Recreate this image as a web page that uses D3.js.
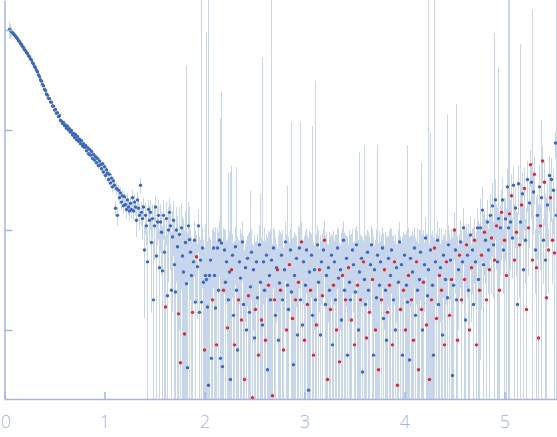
<!DOCTYPE html>
<html lang="en">
<head>
    <meta charset="UTF-8">
    <title>Scattering curve</title>
    <style>
        body { margin: 0; background: #fff; }
        .axis path, .axis line { stroke: #a3b6e3; stroke-width: 1.5; }
        .axis text { font: 300 18px "Open Sans", sans-serif; fill: #a3b6e3; }
        .err { stroke: #c8d6ec; stroke-width: 1; }
    </style>
</head>
<body>
<div id="chart"></div>
<script src="https://d3js.org/d3.v7.min.js"></script>
<script>

    // low-q part: smooth curve
    var qLow = [0.05,0.06,0.07,0.08,0.09,0.10,0.11,0.12,0.13,0.14,
        0.15,0.16,0.17,0.18,0.19,0.20,0.21,0.22,0.23,0.24,
        0.25,0.26,0.27,0.28,0.29,0.30,0.31,0.32,0.33,0.34,
        0.35,0.36,0.37,0.38,0.39,0.40,0.41,0.42,0.43,0.44,
        0.45,0.46,0.47,0.48,0.49,0.50,0.51,0.52,0.53,0.54,
        0.55,0.56,0.57,0.58,0.59,0.60,0.61,0.62,0.63,0.64,
        0.65,0.66,0.67,0.68,0.69,0.70,0.71,0.72,0.73,0.74,
        0.75,0.76,0.77,0.78,0.79,0.80,0.81,0.82,0.83,0.84,
        0.85,0.86,0.87,0.88,0.89,0.90,0.91,0.92,0.93,0.94,
        0.95,0.96,0.97,0.98,0.99,1.00,1.01,1.02,1.03,1.04,
        1.05,1.06,1.07,1.08,1.09,1.10,1.11,1.12,1.13,1.14,
        1.15,1.16,1.17,1.18,1.19,1.20,1.21,1.22,1.23,1.24,1.25];

    var iLow = [1010,985,962,938,917,893,872,842,818,786,
        765,732,715,686,668,636,622,596,583,554,
        540,512,501,470,458,432,420,396,381,356,
        342,318,308,286,276,255,248,229,223,208,
        206,191,189,174,173,158,160,147,149,136,
        139,125,122,116,119,110,112,104,109,100,
        103,95,99,89,93,84,90,80,86,77,
        81,73,78,69,73,67,70,62,67,58,
        64,56,61,52,57,50,54,47,52,44,
        49,45,41,46,38,43,35,40,37,32,
        36,29.5,33,27,31,28,16.5,26,14,25,
        21,23.5,19,22,17.5,21.5,18,16,20,17,15.5];

    var eLow = [200,160,120,60,35,22,16,15,15,14,
        14,13,13,12,12,11,11,10,10,9,
        9,8,8,7,7,7,6,6,6,6,
        5,5,5,5,4,4,4,4,4,4,
        3.5,3.5,3.5,3.5,3,3,3,3,3,3,
        3,3,3,2.5,2.5,2.5,2.5,2.5,2.5,2.5,
        2.5,2.5,2.5,2.5,2.5,2.5,2.5,2.5,2.5,2.5,
        3,3,3,3,3,3,3,3,3,3,
        3.5,3.5,3.5,3.5,3.5,3.5,3.5,3.5,3.5,3.5,
        3.5,3.5,3.5,3.5,3.5,3.5,3.5,3.5,3.5,3.5,
        3.5,3.5,3.5,3.5,3.5,3.5,3,3.5,3,3.5,
        3,3,3,3,3,3,3,3,3,3,3];

    // high-q part: noisy, negative intensities are shown red at |I|
    var qHigh = [1.26,1.27,1.28,1.29,1.30,1.31,1.32,1.33,1.34,1.35,
        1.36,1.37,1.38,1.39,1.40,1.41,1.42,1.43,1.44,1.45,
        1.46,1.47,1.48,1.49,1.50,1.51,1.52,1.53,1.54,1.55,
        1.56,1.57,1.58,1.59,1.60,1.61,1.62,1.63,1.64,1.65,
        1.66,1.67,1.68,1.69,1.70,1.71,1.72,1.73,1.74,1.75,
        1.76,1.77,1.78,1.79,1.80,1.81,1.82,1.83,1.84,1.85,
        1.86,1.87,1.88,1.89,1.90,1.91,1.92,1.93,1.94,1.95,
        1.96,1.97,1.98,1.99,2.00,2.01,2.02,2.03,2.04,2.05,
        2.06,2.07,2.08,2.09,2.10,2.11,2.12,2.13,2.14,2.15,
        2.16,2.17,2.18,2.19,2.20,2.21,2.22,2.23,2.24,2.25,
        2.26,2.27,2.28,2.29,2.30,2.31,2.32,2.33,2.34,2.35,
        2.36,2.37,2.38,2.39,2.40,2.41,2.42,2.43,2.44,2.45,
        2.46,2.47,2.48,2.49,2.50,2.51,2.52,2.53,2.54,2.55,
        2.56,2.57,2.58,2.59,2.60,2.61,2.62,2.63,2.64,2.65,
        2.66,2.67,2.68,2.69,2.70,2.71,2.72,2.73,2.74,2.75,
        2.76,2.77,2.78,2.79,2.80,2.81,2.82,2.83,2.84,2.85,
        2.86,2.87,2.88,2.89,2.90,2.91,2.92,2.93,2.94,2.95,
        2.96,2.97,2.98,2.99,3.00,3.01,3.02,3.03,3.04,3.05,
        3.06,3.07,3.08,3.09,3.10,3.11,3.12,3.13,3.14,3.15,
        3.16,3.17,3.18,3.19,3.20,3.21,3.22,3.23,3.24,3.25,
        3.26,3.27,3.28,3.29,3.30,3.31,3.32,3.33,3.34,3.35,
        3.36,3.37,3.38,3.39,3.40,3.41,3.42,3.43,3.44,3.45,
        3.46,3.47,3.48,3.49,3.50,3.51,3.52,3.53,3.54,3.55,
        3.56,3.57,3.58,3.59,3.60,3.61,3.62,3.63,3.64,3.65,
        3.66,3.67,3.68,3.69,3.70,3.71,3.72,3.73,3.74,3.75,
        3.76,3.77,3.78,3.79,3.80,3.81,3.82,3.83,3.84,3.85,
        3.86,3.87,3.88,3.89,3.90,3.91,3.92,3.93,3.94,3.95,
        3.96,3.97,3.98,3.99,4.00,4.01,4.02,4.03,4.04,4.05,
        4.06,4.07,4.08,4.09,4.10,4.11,4.12,4.13,4.14,4.15,
        4.16,4.17,4.18,4.19,4.20,4.21,4.22,4.23,4.24,4.25,
        4.26,4.27,4.28,4.29,4.30,4.31,4.32,4.33,4.34,4.35,
        4.36,4.37,4.38,4.39,4.40,4.41,4.42,4.43,4.44,4.45,
        4.46,4.47,4.48,4.49,4.50,4.51,4.52,4.53,4.54,4.55,
        4.56,4.57,4.58,4.59,4.60,4.61,4.62,4.63,4.64,4.65,
        4.66,4.67,4.68,4.69,4.70,4.71,4.72,4.73,4.74,4.75,
        4.76,4.77,4.78,4.79,4.80,4.81,4.82,4.83,4.84,4.85,
        4.86,4.87,4.88,4.89,4.90,4.91,4.92,4.93,4.94,4.95,
        4.96,4.97,4.98,4.99,5.00,5.01,5.02,5.03,5.04,5.05,
        5.06,5.07,5.08,5.09,5.10,5.11,5.12,5.13,5.14,5.15,
        5.16,5.17,5.18,5.19,5.20,5.21,5.22,5.23,5.24,5.25,
        5.26,5.27,5.28,5.29,5.30,5.31,5.32,5.33,5.34,5.35,
        5.36,5.37,5.38,5.39,5.40,5.41,5.42,5.43,5.44,5.45,
        5.46,5.47,5.48,5.49,5.50,5.51,5.52];

    var iHigh = [18.5,16,21,15.5,19,17,12.5,20,16.5,14,
        28,15,13,17,6.3,14,11,4.8,16,12.5,
        15,7.5,13,2.0,11,17,5.5,12,14,4.2,
        12,9.5,3.9,14,6,-1.7,13,2.2,10,15,
        11,2.5,8.5,12.5,4.5,2.4,10,6.8,-1.45,9,
        -0.47,10.5,5.5,3.8,-0.91,7.5,2.9,0.42,11,8,
        6.0,3.5,-1.5,4.8,7.9,1.9,-5.4,4.3,11,1.5,
        5.0,1.9,6.6,3.0,-0.63,3.5,3.2,1.7,0.28,3.5,
        5.0,0.52,-2.0,6.6,3.5,1.66,-0.71,6.6,2.5,7.9,
        0.52,7.4,0.43,-2.5,6.3,3.0,4.8,-1.05,2.0,3.8,
        0.32,-4.0,5.6,1.4,-0.71,6.8,2.5,0.63,-2.0,4.8,
        3.3,-1.26,7.6,1.8,-0.32,4.2,1.0,5.2,-2.2,1.5,
        2.7,6.0,-0.21,4.0,0.83,-1.6,4.8,2.1,-0.56,7.1,
        3.0,-1.26,1.12,4.8,2.5,-0.79,5.6,0.40,-2.8,3.5,
        2.0,5.0,-0.22,6.6,-2.0,1.4,4.2,-4.0,0.79,2.95,
        -2.5,5.6,2.0,-0.63,4.0,7.6,-1.0,2.8,1.6,-4.5,
        6.3,2.4,-1.3,0.45,3.5,-2.0,5.2,0.89,-3.0,6.6,
        2.0,-7.6,1.12,4.8,-0.79,2.8,6.3,-1.8,0.25,3.8,
        -2.5,5.6,1.4,-0.56,4.0,2.0,-1.12,7.1,3.0,-4.0,
        0.89,4.8,-2.2,6.3,-7.9,1.8,3.5,-0.32,4.2,2.5,
        -1.6,5.6,0.71,-2.8,4.8,2.0,-1.0,6.6,3.3,-0.48,
        4.0,1.26,-3.5,7.9,2.5,-2.0,5.2,0.56,-4.2,3.0,
        2.0,-1.26,6.3,4.5,-0.71,2.4,7.1,-2.8,1.0,3.8,
        -2.0,5.2,0.38,-4.8,3.2,1.8,-0.83,6.0,2.5,-1.5,
        4.5,7.1,-3.2,0.56,4.0,-1.0,2.1,5.6,-0.40,2.8,
        4.8,-2.0,6.6,1.3,-4.0,2.5,0.79,-1.5,5.2,-2.8,
        3.5,6.3,-0.71,2.0,-4.8,1.0,4.2,-0.28,3.0,7.6,
        -1.6,4.5,0.56,-2.5,5.6,-1.0,2.8,1.9,-3.5,0.50,
        5.2,-2.0,3.8,-0.79,6.6,1.4,-4.8,2.5,-0.40,3.2,
        6.0,-1.6,1.0,-3.0,4.5,8.3,-1.12,2.2,4.0,-0.32,
        6.3,-2.0,2.8,0.56,-6.6,4.8,-1.3,7.9,1.8,-3.5,
        4.2,-2.5,0.89,5.6,-0.71,3.2,-4.8,2.1,7.1,-1.4,
        5.0,-3.2,0.35,2.8,-10,6.3,2.0,-0.79,4.0,-5.6,
        7.6,-2.0,4.8,10.5,-3.2,1.26,-7.1,5.6,2.5,-1.0,
        8.9,-4.2,6.3,1.8,-7.9,4.8,-0.71,10.5,3.2,-2.5,
        10.5,-5.6,15.8,4.5,-9.5,7.9,-2.0,12,6.3,-4.0,
        14,-8.3,17.4,7.1,-5.0,20,-11,4.8,13,-2.5,
        10.5,-15,20,6.3,-7.9,12.9,-3.5,27,10.5,-14.5,
        12,-22,8.3,28,-5.0,16.6,-9.5,1.8,29,-7.1,
        12,-17.8,23,4.0,-26,7.9,-1.6,32,-10.5,18.6,
        -45,30,-5.0,24,-36,6.3,-4.2,14,-0.83,27,
        -11,21,-49,7.9,-30,5.0,-2.1,17.8,-6.3,35,
        -21,32,-7.9,25,-5.9,74,14];

    var eHigh = [3,3,4,3,4,3,4,4,3,4,
        5,4,5,4,5,5,4,5,4,5,
        5,6,5,6,6,5,6,5,6,6,
        6,6,7,6,7,7,6,7,7,6,
        7,7,7,7,8,8,7,7,8,8,
        8,8,8,9,9,8,440,9,8,9,
        4,5,6,3,4.5,8,3.5,3,5,7,
        3,3000,4,5,6,8,950,6,3000,5,
        3,6,8,4,6,9,7,4,7,4.5,
        130,230,7,8,4,7,3,7,35,6,
        38,40,3.5,6,7,4,40,8,6,3,
        7,8,4.5,7,6,3,7,3.5,7,8,
        22,4,7,3,8,6,3,7,7,4,
        20,7,530,3,8,7,3.5,8,7,6,
        8,3000,7,4,8,7,3,2.5,8,7,
        7,3.5,8,6,3,4.5,8,25,7,3,
        4,118,7,8,6,7,3.5,6,8,4,
        118,4.5,7,3,8,7,4,7,8,6,
        7,3.5,108,7,3,310,8,4,7,2.5,
        8,3,7,4,4.5,7,6,7,3,7,
        7,3.5,8,7,3,7,8,4,7,7,
        3,8,7,4.5,7,7,3.5,8,3,7,
        7,8,4,3,7,8,4,7,7,56,
        7,3.5,8,3,68,7,8,4,7,7,
        3,4,7,8,3,7,8,66,7,7,
        3,7,4,8,3,7,8,7,3.5,7,
        7,4,8,7,3,8,3,7,7,4.5,
        7,3,8,7,3.5,8,7,68,7,8,
        3.5,7,6,8,4,7,3,8,7,7,
        4,46,8,7,3,5,8,7,3000,7,
        88,7,7,8,3000,3,8,4.5,7,7,
        3,8,7,3.5,8,7,3,140,4,8,
        3,7,8,7,5,4,180,8,3,3.5,
        5,8,3,6,8,9,4.5,3.5,9,8,
        5,3,4,9,5,3,9,6,9,9,
        10,4,11,10,6,5,11,8,4,10,
        9,6,12,5,930,12,7,12,410,12,
        7,10,13,4,13,8,13,14,3000,3000,
        8,14,5,15,13,10,6,13,15,5,
        710,11,15,14,16,5,15,17,7,12,
        18,17,1600,15,18,4,17,9,17,18,
        7,105,20,5,19,18,19,11,4,20,
        13,20,5,16,20,22,3000];

    var xTicks = [0, 1, 2, 3, 4, 5];
    var yTicks = [1000, 100, 10, 1];

    var width = 557,
        height = 437;

    var svg = d3.select("#chart").append("svg")
        .attr("width", width)
        .attr("height", height);

    var x = d3.scaleLinear()
        .domain([0, 5.525])
        .range([4.5, 557]);

    var y = d3.scaleLog()
        .domain([0.204, 1995])
        .range([399, 0]);

    var points = [];
    qLow.forEach(function (q, i) { points.push({q: q, v: iLow[i], e: eLow[i]}); });
    qHigh.forEach(function (q, i) { points.push({q: q, v: iHigh[i], e: eHigh[i]}); });

    svg.append("clipPath")
        .attr("id", "plot-area")
        .append("rect")
        .attr("x", 4.5)
        .attr("y", 0)
        .attr("width", width - 4.5)
        .attr("height", 399);

    var plot = svg.append("g").attr("clip-path", "url(#plot-area)");

    // error bars first, points on top
    plot.selectAll("line.err")
        .data(points)
        .enter().append("line")
        .attr("class", "err")
        .attr("x1", function (d) { return x(d.q); })
        .attr("x2", function (d) { return x(d.q); })
        .attr("y1", function (d) {
            var lo = Math.abs(d.v) - d.e;
            return lo > y.domain()[0] ? y(lo) : y.range()[0] + 2;
        })
        .attr("y2", function (d) { return y(Math.abs(d.v) + d.e); });

    plot.selectAll("circle")
        .data(points)
        .enter().append("circle")
        .attr("cx", function (d) { return x(d.q); })
        .attr("cy", function (d) { return y(Math.abs(d.v)); })
        .attr("r", 1.7)
        .attr("fill", function (d) { return d.v < 0 ? "#e8232b" : "#3b68bf"; });

    var xAxis = svg.append("g")
        .attr("class", "axis")
        .attr("transform", "translate(0,399)")
        .call(d3.axisBottom(x)
            .tickValues(xTicks)
            .tickFormat(d3.format("d"))
            .tickSizeInner(-7)
            .tickSizeOuter(0)
            .tickPadding(16));

    // keep the "0" inside the page
    xAxis.select(".tick text").attr("dx", 1);

    svg.append("g")
        .attr("class", "axis")
        .attr("transform", "translate(4.5,0)")
        .call(d3.axisLeft(y)
            .tickValues(yTicks)
            .tickSizeInner(-8)
            .tickSizeOuter(0)
            .tickFormat(""));

</script>
</body>
</html>
